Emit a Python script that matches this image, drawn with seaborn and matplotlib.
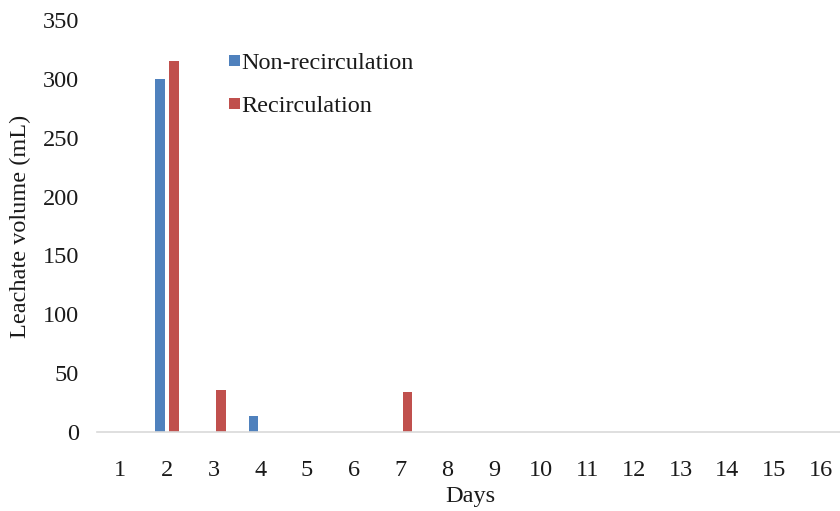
import matplotlib
matplotlib.use("Agg")
import matplotlib.pyplot as plt
import seaborn as sns
import pandas as pd

days = [str(d) for d in range(1, 17)]
non_recirculation = [0, 300, 0, 14, 0, 0, 0, 0, 0, 0, 0, 0, 0, 0, 0, 0]
recirculation = [0, 315, 36, 0, 0, 0, 34, 0, 0, 0, 0, 0, 0, 0, 0, 0]
series_names = ["Non-recirculation", "Recirculation"]
colors = ["#4F81BD", "#C0504D"]
y_ticks = [0, 50, 100, 150, 200, 250, 300, 350]

df = pd.DataFrame({
    "Days": days * 2,
    "value": non_recirculation + recirculation,
    "series": [series_names[0]] * len(days) + [series_names[1]] * len(days),
})

sns.set_style("white")
plt.rcParams["font.family"] = ["Liberation Serif", "DejaVu Serif"]
fs = 17.5
text_color = "#1a1a1a"

fig = plt.figure(figsize=(8.4, 5.11), dpi=100)
ax = fig.add_axes([97 / 840, 1 - 432 / 511, 747 / 840, 412 / 511])

sns.barplot(data=df, x="Days", y="value", hue="series", order=days,
            hue_order=series_names, palette=colors, width=0.6, gap=0.3,
            saturation=1, ax=ax, linewidth=0)

ax.set_ylim(0, 350)
ax.set_xlim(-0.5, 15.5)
ax.set_yticks(y_ticks)
ax.set_yticklabels([str(v) for v in y_ticks])
ax.tick_params(axis="both", length=0, labelsize=fs, colors=text_color)
ax.tick_params(axis="x", pad=20)
ax.tick_params(axis="y", pad=13)
for s in ["left", "right", "top"]:
    ax.spines[s].set_visible(False)
ax.spines["bottom"].set_color("#D9D9D9")
ax.spines["bottom"].set_linewidth(1.2)

ax.set_xlabel("Days", fontsize=fs, color=text_color, labelpad=4)
ax.set_ylabel("Leachate volume (mL)", fontsize=fs, color=text_color, labelpad=8)

leg = ax.legend(loc="upper left", bbox_to_anchor=(0.1767, 0.92), frameon=False,
                fontsize=fs, handlelength=0.35, handleheight=0.35,
                handletextpad=0.15, labelspacing=0.9, borderpad=0,
                borderaxespad=0)
for h in leg.legend_handles:
    h.set_width(8)
    h.set_height(8)
for t in leg.get_texts():
    t.set_color(text_color)

fig.savefig("out.png", dpi=100)
